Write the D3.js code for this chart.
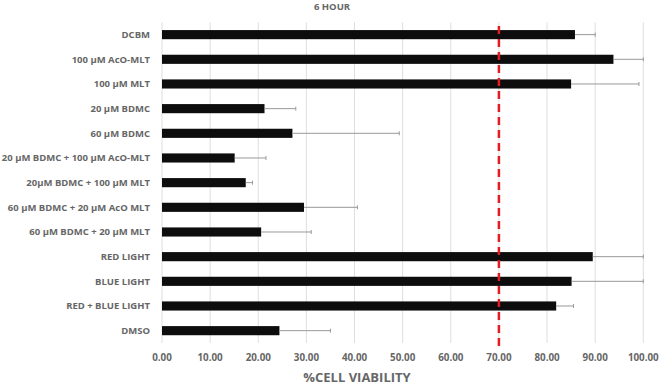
<!DOCTYPE html>
<html>
<head>
<meta charset="utf-8">
<script src="https://cdn.jsdelivr.net/npm/d3@7"></script>
<style>
  body { margin: 0; background: #fff; }
  svg text { font-family: "Open Sans", "DejaVu Sans", sans-serif; font-weight: 700; fill: #666; }
</style>
</head>
<body>
<svg id="chart" width="661" height="386"></svg>
<script>
// treatments, top to bottom
const groups = [
  "DCBM", "100 µM AcO-MLT", "100 µM MLT", "20 µM BDMC", "60 µM BDMC",
  "20 µM BDMC + 100 µM AcO-MLT", "20µM BDMC + 100 µM MLT",
  "60 µM BDMC + 20 µM AcO MLT", "60 µM BDMC + 20 µM MLT",
  "RED LIGHT", "BLUE LIGHT", "RED + BLUE LIGHT", "DMSO"
];
const viability = [85.8, 93.8, 85.0, 21.3, 27.1, 15.1, 17.4, 29.5, 20.6, 89.5, 85.1, 81.9, 24.4];
// upper end of the (one-sided) error bar
const errTop = [90.0, 100, 99.1, 27.8, 49.3, 21.6, 18.8, 40.6, 31.0, 100, 100, 85.5, 35.0];
const xTicks = [0, 10, 20, 30, 40, 50, 60, 70, 80, 90, 100];
const threshold = 70;

const svg = d3.select("#chart");
const margin = {top: 22.3, right: 18, bottom: 43, left: 162};
const width = 661, height = 386;

const x = d3.scaleLinear().domain([0, 100]).range([margin.left, 643.3]);
const y = d3.scaleBand().domain(groups).range([margin.top, height - margin.bottom]).paddingInner(0.63).paddingOuter(0.315);

// gridlines
svg.append("g")
  .selectAll("line")
  .data(xTicks)
  .join("line")
    .attr("x1", d => x(d)).attr("x2", d => x(d))
    .attr("y1", margin.top).attr("y2", height - margin.bottom)
    .attr("stroke", "#dedede").attr("stroke-width", 1);

// tick labels
svg.append("g")
  .selectAll("text")
  .data(xTicks)
  .join("text")
    .attr("x", d => x(d))
    .attr("y", 361)
    .attr("text-anchor", "middle")
    .attr("font-size", 9.8)
    .text(d => d.toFixed(2));

// category labels
svg.append("g")
  .selectAll("text")
  .data(groups)
  .join("text")
    .attr("x", 150)
    .attr("y", d => y(d) + y.bandwidth() / 2)
    .attr("dy", "0.35em")
    .attr("text-anchor", "end")
    .attr("font-size", 9.5)
    .text(d => d);

// bars
svg.append("g")
  .selectAll("rect")
  .data(groups)
  .join("rect")
    .attr("x", x(0))
    .attr("y", d => y(d))
    .attr("width", (d, i) => x(viability[i]) - x(0))
    .attr("height", y.bandwidth())
    .attr("fill", "#0d0d0d");

// error bars
const eb = svg.append("g").attr("stroke", "#999").attr("stroke-width", 1);
groups.forEach((g, i) => {
  const cy = y(g) + y.bandwidth() / 2;
  eb.append("line")
    .attr("x1", x(viability[i])).attr("x2", x(errTop[i]))
    .attr("y1", cy).attr("y2", cy);
  eb.append("line")
    .attr("x1", x(errTop[i])).attr("x2", x(errTop[i]))
    .attr("y1", cy - 2).attr("y2", cy + 2);
});

// 70% threshold line
svg.append("line")
  .attr("x1", x(threshold)).attr("x2", x(threshold))
  .attr("y1", 26).attr("y2", 349)
  .attr("stroke", "#e31b23")
  .attr("stroke-width", 2.5)
  .attr("stroke-dasharray", "8,5");

// titles
svg.append("text")
  .attr("x", 332).attr("y", 10)
  .attr("text-anchor", "middle")
  .attr("font-size", 9.5)
  .text("6 HOUR");

svg.append("text")
  .attr("x", 357).attr("y", 382)
  .attr("text-anchor", "middle")
  .attr("font-size", 13)
  .text("%CELL VIABILITY");
</script>
</body>
</html>
